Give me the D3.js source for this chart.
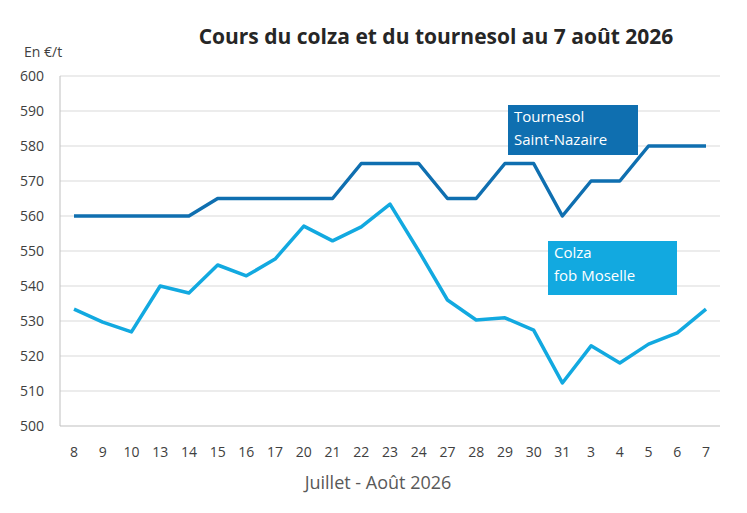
<!DOCTYPE html>
<html><head><meta charset="utf-8">
<script src="https://cdn.jsdelivr.net/npm/d3@7"></script>
<style>body{margin:0;background:#fff}text{font-family:"Open Sans",Lato,sans-serif}</style>
</head><body><svg id="c" width="747" height="513"></svg>
<script>
const days = ['8','9','10','13','14','15','16','17','20','21','22','23','24','27','28','29','30','31','3','4','5','6','7']
const tournesol = [560,560,560,560,560,565,565,565,565,565,575,575,575,565,565,575,575,560,570,570,580,580,580]
const colza = [533.4,529.7,526.9,540,538,546,542.9,547.7,557.1,552.9,556.9,563.4,550,536,530.3,530.9,527.4,512.3,522.9,518,523.4,526.6,533.4]
const yTicks = d3.range(500, 601, 10)

const svg = d3.select('#c')
const x = d3.scalePoint().domain(days).range([74, 706])
const y = d3.scaleLinear().domain([500, 600]).range([426, 76])

svg.append('g').selectAll('line').data(yTicks).join('line')
  .attr('x1', 60).attr('x2', 720).attr('y1', d => y(d)).attr('y2', d => y(d))
  .attr('stroke', d => d === 500 ? '#bfbfbf' : '#d9d9d9').attr('stroke-width', 1)
svg.append('line').attr('x1', 60).attr('x2', 60).attr('y1', 76).attr('y2', 426).attr('stroke', '#bfbfbf')

svg.append('g').selectAll('text').data(yTicks).join('text')
  .attr('x', 44).attr('y', d => y(d) + 5).attr('text-anchor', 'end')
  .attr('font-size', 14).attr('fill', '#404040').text(d => d)
svg.append('g').selectAll('text').data(days).join('text')
  .attr('x', d => x(d)).attr('y', 457).attr('text-anchor', 'middle')
  .attr('font-size', 14).attr('fill', '#404040').text(d => d)

svg.append('text').attr('x', 436).attr('y', 44).attr('text-anchor', 'middle')
  .attr('font-size', 21).attr('font-weight', 'bold').attr('fill', '#262626')
  .text('Cours du colza et du tournesol au 7 août 2026')
svg.append('text').attr('x', 24).attr('y', 57).attr('font-size', 14).attr('fill', '#404040').text('En €/t')
svg.append('text').attr('x', 378).attr('y', 489).attr('text-anchor', 'middle')
  .attr('font-size', 18).attr('fill', '#595959').text('Juillet - Août 2026')

const line = d3.line().x((d, i) => x(days[i])).y(d => y(d))
svg.append('path').datum(tournesol).attr('d', line).attr('fill', 'none')
  .attr('stroke', '#0f6fb0').attr('stroke-width', 3.5).attr('stroke-linejoin', 'round')
svg.append('path').datum(colza).attr('d', line).attr('fill', 'none')
  .attr('stroke', '#12a9e0').attr('stroke-width', 3.5).attr('stroke-linejoin', 'round')

function label(x0, y0, w, h, color, lines) {
  svg.append('rect').attr('x', x0).attr('y', y0).attr('width', w).attr('height', h).attr('fill', color)
  lines.forEach((t, i) => svg.append('text').attr('x', x0 + 6).attr('y', y0 + 17 + i * 23)
    .attr('font-size', 15).attr('fill', '#fff').text(t))
}
label(508, 105, 130, 50, '#0f6fb0', ['Tournesol', 'Saint-Nazaire'])
label(548, 241, 129, 54, '#12a9e0', ['Colza', 'fob Moselle'])
</script></body></html>
